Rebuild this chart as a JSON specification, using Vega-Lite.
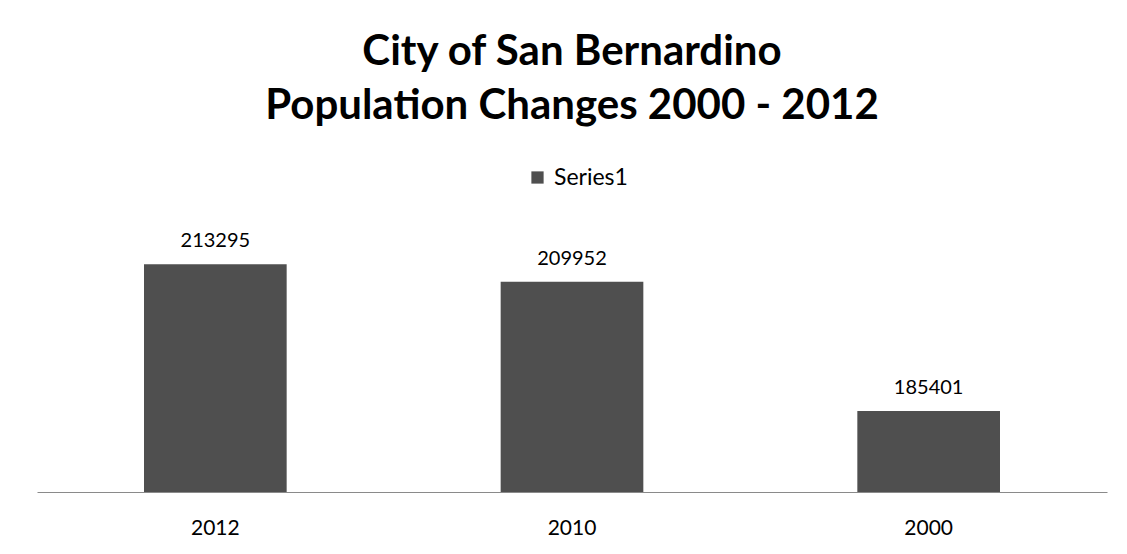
{
  "$schema": "https://vega.github.io/schema/vega-lite/v6.json",
  "width": 1070,
  "height": 263,
  "autosize": {"type": "none"},
  "padding": {"left": 37, "top": 229, "right": 20, "bottom": 62},
  "background": "white",
  "title": {
    "text": ["City of San Bernardino", "Population Changes 2000 - 2012"],
    "font": "Lato",
    "fontSize": 42,
    "fontWeight": "bold",
    "lineHeight": 54,
    "color": "#000000",
    "anchor": "middle",
    "offset": 38
  },
  "data": {
    "values": [
      {"year": "2012", "series": "Series1", "population": 213295},
      {"year": "2010", "series": "Series1", "population": 209952},
      {"year": "2000", "series": "Series1", "population": 185401}
    ]
  },
  "encoding": {
    "x": {
      "field": "year",
      "type": "nominal",
      "sort": null,
      "scale": {"paddingInner": 0.6, "paddingOuter": 0.3},
      "axis": {
        "title": null,
        "labelAngle": 0,
        "ticks": false,
        "labelFont": "Lato",
        "labelFontSize": 21,
        "labelColor": "#000000",
        "labelPadding": 25,
        "domainColor": "#8a8a8a",
        "domainWidth": 1,
        "zindex": 1
      }
    },
    "y": {
      "field": "population",
      "type": "quantitative",
      "scale": {"domain": [170000, 220000], "zero": false, "nice": false},
      "axis": null
    }
  },
  "layer": [
    {
      "mark": {"type": "bar", "color": "#4f4f4f"},
      "encoding": {
        "y2": {"datum": 170000},
        "color": {
          "field": "series",
          "type": "nominal",
          "scale": {"range": ["#4f4f4f"]},
          "legend": {
            "title": null,
            "orient": "none",
            "legendX": 489,
            "legendY": -63,
            "direction": "horizontal",
            "symbolType": "square",
            "symbolSize": 150,
            "symbolStrokeWidth": 0,
            "labelFont": "Lato",
            "labelFontSize": 23,
            "labelColor": "#000000",
            "labelOffset": 5
          }
        }
      }
    },
    {
      "mark": {"type": "text", "font": "Lato", "fontSize": 20, "color": "#000000", "baseline": "alphabetic", "dy": -17},
      "encoding": {
        "text": {"field": "population", "type": "quantitative", "format": "d"}
      }
    }
  ],
  "config": {
    "view": {"stroke": null}
  }
}
